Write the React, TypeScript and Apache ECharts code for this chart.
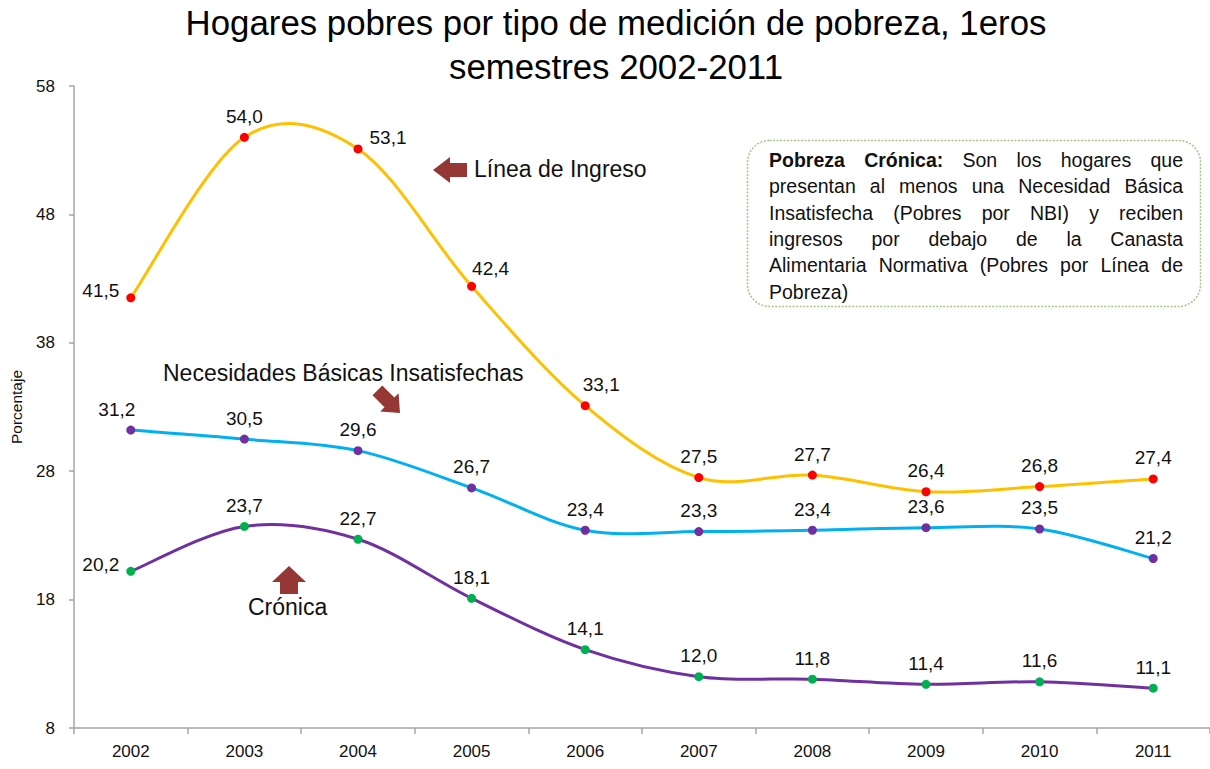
import React, { useEffect, useRef } from "react";
import * as echarts from "echarts";

const years = ["2002", "2003", "2004", "2005", "2006", "2007", "2008", "2009", "2010", "2011"];
const lineaIngreso = [41.5, 54.0, 53.1, 42.4, 33.1, 27.5, 27.7, 26.4, 26.8, 27.4];
const nbi = [31.2, 30.5, 29.6, 26.7, 23.4, 23.3, 23.4, 23.6, 23.5, 21.2];
const cronica = [20.2, 23.7, 22.7, 18.1, 14.1, 12.0, 11.8, 11.4, 11.6, 11.1];

const yMin = 8;
const yMax = 58;
const yStep = 10;

const titleLines = ["Hogares pobres por tipo de medición de pobreza, 1eros", "semestres 2002-2011"];
const yName = "Porcentaje";
const noteLines = [
  "Pobreza Crónica: Son los hogares que",
  "presentan al menos una Necesidad Básica",
  "Insatisfecha (Pobres por NBI) y reciben",
  "ingresos por debajo de la Canasta",
  "Alimentaria Normativa (Pobres por Línea de",
  "Pobreza)",
];
const annIngreso = "Línea de Ingreso";
const annNbi = "Necesidades Básicas Insatisfechas";
const annCronica = "Crónica";

const FONT = '"Liberation Sans", Arial, sans-serif';
const TXT = "#111111";
const ARROW = "#953735";

const fmt = (v: number) => v.toFixed(1).replace(".", ",");

// label placement overrides (style only)
const ingresoLabel: Record<number, any> = {
  0: { position: "left", offset: [0, -7] },
  2: { position: "right", offset: [0, -11] },
  3: { position: "top", offset: [19, 3] },
  4: { position: "top", offset: [16, 0] },
};
const nbiLabel: Record<number, any> = {
  0: { position: "top", offset: [-14, 0] },
};
const cronicaLabel: Record<number, any> = {
  0: { position: "left", offset: [0, -7] },
};

function buildData(vals: number[], over: Record<number, any>) {
  return vals.map((v, i) => (over[i] ? { value: v, label: over[i] } : v));
}

function measure(text: string, bold: boolean, size: number) {
  const c = document.createElement("canvas").getContext("2d")!;
  c.font = `${bold ? "bold " : ""}${size}px ${FONT}`;
  return c.measureText(text).width;
}

function buildNote(): any[] {
  const left = 769;
  const right = 1183;
  const size = 19.5;
  const top = 160;
  const lh = 26.3;
  const els: any[] = [];
  noteLines.forEach((line, li) => {
    const y = top + li * lh;
    const words = line.split(" ").map((w, wi) => ({ t: w, b: li === 0 && wi < 2 }));
    const last = li === noteLines.length - 1;
    const widths = words.map((w) => measure(w.t, w.b, size));
    const total = widths.reduce((a, b) => a + b, 0);
    const gap = last || words.length < 2 ? measure(" ", false, size) : (right - left - total) / (words.length - 1);
    let x = left;
    words.forEach((w, wi) => {
      els.push({
        type: "text",
        x,
        y,
        style: {
          text: w.t,
          fontSize: size,
          fontFamily: FONT,
          fontWeight: w.b ? "bold" : "normal",
          fill: TXT,
          textAlign: "left",
          textVerticalAlign: "middle",
        },
      });
      x += widths[wi] + gap;
    });
  });
  return els;
}

// Smooth curve (Catmull-Rom style, like spreadsheet smoothing) drawn through the axes
function curveSeries(vals: number[], color: string) {
  return {
    type: "custom",
    coordinateSystem: "cartesian2d",
    data: vals.map((v, i) => [i, v]),
    silent: true,
    z: 2,
    renderItem: (params: any, api: any) => {
      const i = params.dataIndex;
      const n = vals.length;
      if (i >= n - 1) return null;
      const P = (k: number) => {
        const kk = Math.max(0, Math.min(n - 1, k));
        return api.coord([kk, vals[kk]]);
      };
      const p0 = P(i - 1);
      const p1 = P(i);
      const p2 = P(i + 1);
      const p3 = P(i + 2);
      const t = 1 / 6;
      return {
        type: "bezierCurve",
        shape: {
          x1: p1[0],
          y1: p1[1],
          x2: p2[0],
          y2: p2[1],
          cpx1: p1[0] + (p2[0] - p0[0]) * t,
          cpy1: p1[1] + (p2[1] - p0[1]) * t,
          cpx2: p2[0] - (p3[0] - p1[0]) * t,
          cpy2: p2[1] - (p3[1] - p1[1]) * t,
        },
        style: { stroke: color, lineWidth: 3, fill: "none", lineCap: "round" },
      };
    },
  };
}

export default function App() {
  const ref = useRef<HTMLDivElement>(null);
  useEffect(() => {
    if (!ref.current) return;
    const chart = echarts.init(ref.current, undefined, { renderer: "svg" });

    const labelBase = {
      show: true,
      position: "top",
      distance: 7,
      fontSize: 19,
      fontFamily: FONT,
      color: TXT,
      formatter: (p: any) => fmt(p.value),
    };

    const pointSeries = (name: string, vals: number[], over: Record<number, any>, marker: string) => ({
      type: "line",
      name,
      data: buildData(vals, over),
      symbol: "circle",
      symbolSize: 9,
      lineStyle: { width: 0, opacity: 0 },
      itemStyle: { color: marker, borderWidth: 0 },
      label: labelBase,
      emphasis: { disabled: true },
      z: 4,
    });

    const arrowLeft = [
      [433, 170], [450, 157], [450, 163], [467, 163], [467, 177], [450, 177], [450, 183],
    ];
    const arrowUp = [
      [289, 566], [306, 582], [298, 582], [298, 594], [280, 594], [280, 582], [272, 582],
    ];
    const arrowDiag = [
      [400, 413], [398.6, 393.2], [394.3, 397.5], [382.3, 385.5], [372.5, 395.3], [384.5, 407.3], [380.2, 411.6],
    ];

    const annStyle = { fontSize: 23, fontFamily: FONT, fill: TXT, textAlign: "left", textVerticalAlign: "middle" };

    const graphic: any[] = [
      {
        type: "text",
        x: 616,
        y: 22,
        style: { text: titleLines[0], fontSize: 34.8, fontFamily: FONT, fill: "#000", textAlign: "center", textVerticalAlign: "middle" },
      },
      {
        type: "text",
        x: 616,
        y: 66,
        style: { text: titleLines[1], fontSize: 34.8, fontFamily: FONT, fill: "#000", textAlign: "center", textVerticalAlign: "middle" },
      },
      {
        type: "rect",
        shape: { x: 747.5, y: 140.5, width: 453, height: 166, r: 22 },
        style: { fill: "#ffffff", stroke: "#a9c48a", lineWidth: 1.5, lineDash: [2, 1.5] },
        z: 1,
      },
      ...buildNote().map((e) => ({ ...e, z: 2 })),
      { type: "polygon", shape: { points: arrowLeft }, style: { fill: ARROW } },
      { type: "polygon", shape: { points: arrowUp }, style: { fill: ARROW } },
      { type: "polygon", shape: { points: arrowDiag }, style: { fill: ARROW } },
      { type: "text", x: 474, y: 169, style: { ...annStyle, text: annIngreso } },
      { type: "text", x: 163, y: 373, style: { ...annStyle, text: annNbi } },
      { type: "text", x: 248, y: 607, style: { ...annStyle, text: annCronica } },
    ];

    chart.setOption({
      animation: false,
      backgroundColor: "#ffffff",
      grid: { left: 74, right: 0, top: 86, bottom: 41, containLabel: false, outerBoundsMode: "none" },
      xAxis: {
        type: "category",
        data: years,
        boundaryGap: true,
        axisLine: { lineStyle: { color: "#a6a6a6", width: 1.5 } },
        axisTick: { show: true, interval: 0, length: 6, lineStyle: { color: "#a6a6a6", width: 1.5 } },
        axisLabel: { fontSize: 17, fontFamily: FONT, color: TXT, margin: 15, interval: 0 },
        splitLine: { show: false },
      },
      yAxis: {
        type: "value",
        min: yMin,
        max: yMax,
        interval: yStep,
        name: yName,
        nameLocation: "middle",
        nameRotate: 90,
        nameGap: 50,
        nameTextStyle: { fontSize: 15.5, fontFamily: FONT, color: TXT },
        axisLine: { show: true, lineStyle: { color: "#a6a6a6", width: 1.5 } },
        axisTick: { show: true, length: 5, lineStyle: { color: "#a6a6a6", width: 1.5 } },
        axisLabel: { fontSize: 17, fontFamily: FONT, color: TXT, margin: 19 },
        splitLine: { show: false },
      },
      series: [
        curveSeries(lineaIngreso, "#FFC000"),
        curveSeries(nbi, "#00B0F0"),
        curveSeries(cronica, "#7030A0"),
        pointSeries("Línea de Ingreso", lineaIngreso, ingresoLabel, "#FF0000"),
        pointSeries("Necesidades Básicas Insatisfechas", nbi, nbiLabel, "#7030A0"),
        pointSeries("Crónica", cronica, cronicaLabel, "#00B050"),
      ],
      graphic,
    });

    return () => chart.dispose();
  }, []);

  return (
    <div
      ref={ref}
      style={{ position: "fixed", left: 0, top: 0, width: 1210, height: 769, background: "#fff" }}
    />
  );
}
